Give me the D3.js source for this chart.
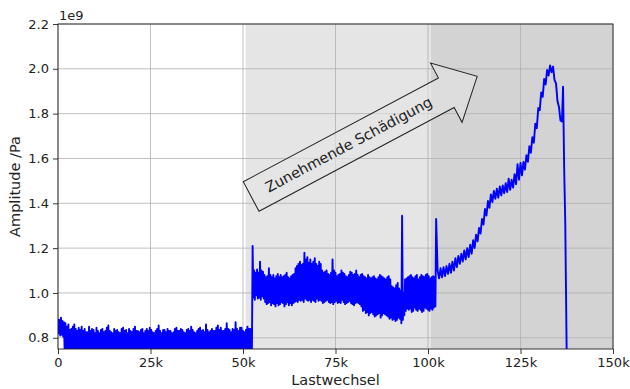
<!DOCTYPE html>
<html>
<head>
<meta charset="utf-8">
<script src="https://cdn.jsdelivr.net/npm/d3@7"></script>
<style>
  html, body { margin: 0; padding: 0; background: #fff; }
  svg { display: block; font-family: "DejaVu Sans", sans-serif; }
</style>
</head>
<body>
<svg id="chart" width="630" height="389"></svg>
<script>
// ---------- data (load cycles in thousands, amplitude in 1e9 Pa) ----------
const phase1Step = 0.2;           // thousand cycles between samples
const phase1Start = 0;
const phase1 = [
  0.885,0.82,0.88,0.81,0.89,0.815,0.875,0.805,0.87,0.74,0.865,0.72,0.85,0.73,0.86,0.71,0.835,0.72,0.84,0.70,
  0.85,0.73,0.86,0.71,0.84,0.72,0.83,0.70,0.845,0.73,0.835,0.71,0.85,0.72,0.83,0.70,0.84,0.73,0.825,0.71,
  0.825,0.72,0.85,0.70,0.83,0.73,0.84,0.71,0.835,0.72,0.82,0.70,0.845,0.73,0.83,0.71,0.82,0.72,0.835,0.70,
  0.84,0.73,0.825,0.71,0.83,0.72,0.845,0.70,0.855,0.73,0.83,0.71,0.825,0.72,0.82,0.70,0.84,0.73,0.83,0.71,
  0.835,0.72,0.825,0.70,0.82,0.73,0.84,0.71,0.845,0.72,0.83,0.70,0.835,0.73,0.82,0.71,0.84,0.72,0.83,0.70,
  0.825,0.73,0.84,0.71,0.85,0.72,0.83,0.70,0.83,0.73,0.825,0.71,0.835,0.72,0.84,0.70,0.82,0.73,0.83,0.71,
  0.84,0.72,0.83,0.70,0.845,0.73,0.835,0.71,0.825,0.72,0.82,0.70,0.83,0.73,0.84,0.71,0.855,0.72,0.83,0.70,
  0.82,0.73,0.835,0.71,0.835,0.72,0.825,0.70,0.84,0.73,0.83,0.71,0.83,0.72,0.82,0.70,0.825,0.73,0.84,0.71,
  0.845,0.72,0.83,0.70,0.83,0.73,0.84,0.71,0.835,0.72,0.825,0.70,0.82,0.73,0.835,0.71,0.84,0.72,0.83,0.70,
  0.85,0.73,0.835,0.71,0.825,0.72,0.82,0.70,0.83,0.73,0.84,0.71,0.845,0.72,0.83,0.70,0.835,0.73,0.825,0.71,
  0.86,0.72,0.835,0.70,0.825,0.73,0.83,0.71,0.84,0.72,0.83,0.70,0.83,0.73,0.845,0.71,0.855,0.72,0.835,0.70,
  0.845,0.73,0.83,0.71,0.83,0.72,0.84,0.70,0.865,0.73,0.84,0.71,0.835,0.72,0.825,0.70,0.84,0.73,0.835,0.71,
  0.87,0.72,0.84,0.70,0.83,0.73,0.845,0.71,0.845,0.72,0.83,0.70,0.825,0.73,0.835,0.71,0.85,0.72,0.84,0.70,
  0.84,0.73,0.72
];
const phase2Step = 0.2;
const phase2Start = 52.6;
const phase2 = [
  1.21,0.98,1.10,0.97,1.09,0.99,1.105,0.975,1.09,0.98,1.14,0.97,1.10,0.985,1.095,0.975,1.08,0.96,1.07,0.95,
  1.075,0.955,1.11,0.96,1.08,0.945,1.07,0.955,1.08,0.95,1.065,0.94,1.075,0.955,1.085,0.945,1.07,0.95,1.08,0.96,
  1.07,0.955,1.075,0.94,1.08,0.95,1.09,0.96,1.07,0.945,1.065,0.955,1.075,0.945,1.08,0.955,1.085,0.96,1.11,0.965,
  1.12,0.96,1.13,0.97,1.14,0.965,1.125,0.97,1.13,0.96,1.18,0.975,1.15,0.97,1.16,0.965,1.135,0.97,1.15,0.96,
  1.13,0.97,1.14,0.965,1.155,0.96,1.13,0.975,1.12,0.965,1.14,0.97,1.13,0.965,1.10,0.955,1.09,0.96,1.095,0.965,
  1.10,0.97,1.085,0.96,1.08,0.955,1.09,0.96,1.15,0.95,1.10,0.96,1.09,0.965,1.075,0.955,1.08,0.96,1.085,0.955,
  1.10,0.97,1.09,0.96,1.085,0.95,1.075,0.955,1.07,0.96,1.08,0.965,1.095,0.955,1.09,0.95,1.08,0.945,1.085,0.955,
  1.10,0.96,1.08,0.955,1.07,0.95,1.08,0.94,1.085,0.92,1.075,0.925,1.07,0.91,1.065,0.915,1.08,0.90,1.07,0.91,
  1.065,0.915,1.07,0.905,1.075,0.895,1.065,0.90,1.06,0.905,1.07,0.91,1.08,0.89,1.075,0.90,1.07,0.91,1.065,0.905,
  1.06,0.90,1.07,0.895,1.075,0.885,1.06,0.89,1.03,0.88,1.025,0.885,1.02,0.875,1.035,0.88,1.045,0.89,1.02,0.885,
  1.01,0.865,1.345,0.88,1.00,0.90,1.06,0.92,1.065,0.93,1.07,0.925,1.075,0.93,1.08,0.915,1.07,0.92,1.065,0.935,
  1.075,0.925,1.08,0.92,1.06,0.93,1.07,0.925,1.08,0.915,1.075,0.92,1.07,0.935,1.08,0.93,1.085,0.925,1.075,0.92,
  1.065,0.93,1.07,0.925,1.075,0.935,1.07,0.94,1.33
];
const phase3Step = 0.4;
const phase3Start = 102.6;
const phase3 = [
  1.10, 1.065, 1.11, 1.07, 1.115, 1.075, 1.12, 1.085, 1.13, 1.09,
  1.14, 1.10, 1.155, 1.115, 1.165, 1.13, 1.175, 1.14, 1.19, 1.15,
  1.20, 1.16, 1.215, 1.175, 1.235, 1.20, 1.26, 1.23, 1.29, 1.265,
  1.33, 1.305, 1.375, 1.345, 1.41, 1.38, 1.44, 1.405, 1.455, 1.42,
  1.465, 1.425, 1.475, 1.435, 1.48, 1.445, 1.49, 1.45, 1.51, 1.46,
  1.505, 1.47, 1.53, 1.485, 1.575, 1.505, 1.58, 1.525, 1.585, 1.55,
  1.615, 1.585, 1.655, 1.625, 1.695, 1.67, 1.755, 1.735, 1.825, 1.815,
  1.895, 1.875, 1.955, 1.93, 1.995, 1.97, 2.015, 1.985, 2.01, 1.95,
  1.935, 1.855, 1.83, 1.77, 1.765
];
const failureCycles = [136.5, 136.8, 137.1, 137.5];
const failureAmps   = [1.92, 1.56, 1.31, 0.70];

const damageSpans = [[50.7, 100.8], [100.8, 150]];
const spanColors = ["#e5e5e5", "#d3d3d3"];

const xTicks = [0, 25, 50, 75, 100, 125, 150];
const xTickLabels = ["0", "25k", "50k", "75k", "100k", "125k", "150k"];
const yTicks = [0.8, 1.0, 1.2, 1.4, 1.6, 1.8, 2.0, 2.2];
const yTickLabels = ["0.8", "1.0", "1.2", "1.4", "1.6", "1.8", "2.0", "2.2"];

const xTitle = "Lastwechsel";
const yTitle = "Amplitude /Pa";
const offsetText = "1e9";
const arrowText = "Zunehmende Schädigung";

// ---------- layout ----------
const plot = { left: 58, right: 613, top: 24, bottom: 349 };
const svg = d3.select("#chart");

const x = d3.scaleLinear().domain([0, 150]).range([plot.left, plot.right]);
const y = d3.scaleLinear().domain([0.75, 2.2]).range([plot.bottom, plot.top]);

const points = []
  .concat(phase1.map((v, i) => [phase1Start + i * phase1Step, v]))
  .concat(phase2.map((v, i) => [phase2Start + i * phase2Step, v]))
  .concat(phase3.map((v, i) => [phase3Start + i * phase3Step, v]))
  .concat(failureCycles.map((c, i) => [c, failureAmps[i]]));

svg.append("defs").append("clipPath").attr("id", "clip")
  .append("rect")
  .attr("x", plot.left).attr("y", plot.top)
  .attr("width", plot.right - plot.left).attr("height", plot.bottom - plot.top);

// shaded spans
svg.append("g").selectAll("rect").data(damageSpans).join("rect")
  .attr("x", d => x(d[0]))
  .attr("y", plot.top)
  .attr("width", d => x(d[1]) - x(d[0]))
  .attr("height", plot.bottom - plot.top)
  .attr("fill", (d, i) => spanColors[i]);

// grid
const grid = svg.append("g").attr("stroke", "#b0b0b0").attr("stroke-width", 0.8);
grid.selectAll("line.gx").data(xTicks).join("line")
  .attr("x1", d => x(d)).attr("x2", d => x(d))
  .attr("y1", plot.top).attr("y2", plot.bottom);
grid.selectAll("line.gy").data(yTicks).join("line")
  .attr("y1", d => y(d)).attr("y2", d => y(d))
  .attr("x1", plot.left).attr("x2", plot.right);

// data line
const line = d3.line().x(d => x(d[0])).y(d => y(d[1]));
svg.append("path")
  .datum(points)
  .attr("clip-path", "url(#clip)")
  .attr("d", line)
  .attr("fill", "none")
  .attr("stroke", "#0000ff")
  .attr("stroke-width", 1.9)
  .attr("stroke-linejoin", "round");

// axes
const xAxis = d3.axisBottom(x).tickValues(xTicks)
  .tickFormat((d, i) => xTickLabels[i]).tickSize(5).tickPadding(4);
const yAxis = d3.axisLeft(y).tickValues(yTicks)
  .tickFormat((d, i) => yTickLabels[i]).tickSize(5).tickPadding(4);

const gx = svg.append("g").attr("transform", `translate(0,${plot.bottom})`).call(xAxis);
const gy = svg.append("g").attr("transform", `translate(${plot.left},0)`).call(yAxis);
[gx, gy].forEach(g => {
  g.select(".domain").remove();
  g.selectAll("line").attr("stroke", "#222").attr("stroke-width", 0.9);
  g.selectAll("text").attr("fill", "#222").style("font-size", "13px")
    .style("font-family", "DejaVu Sans, sans-serif");
});

// frame
svg.append("rect")
  .attr("x", plot.left).attr("y", plot.top)
  .attr("width", plot.right - plot.left).attr("height", plot.bottom - plot.top)
  .attr("fill", "none").attr("stroke", "#222").attr("stroke-width", 0.9);

// titles
svg.append("text")
  .attr("x", (plot.left + plot.right) / 2).attr("y", 385)
  .attr("text-anchor", "middle").attr("fill", "#222")
  .style("font-size", "14.5px").text(xTitle);
svg.append("text")
  .attr("transform", `translate(20,${(plot.top + plot.bottom) / 2}) rotate(-90)`)
  .attr("text-anchor", "middle").attr("fill", "#222")
  .style("font-size", "14.5px").text(yTitle);
svg.append("text")
  .attr("x", plot.left + 1).attr("y", 20)
  .attr("fill", "#222").style("font-size", "13px").text(offsetText);

// damage arrow annotation
const arrowG = svg.append("g")
  .attr("transform", "translate(243.3,181.7) rotate(-28)");
const bodyLen = 221, bodyH = 33.5, headOver = 16.8, headLen = 35;
const arrowPts = [
  [0, 0], [bodyLen, 0], [bodyLen, -headOver], [bodyLen + headLen, bodyH / 2],
  [bodyLen, bodyH + headOver], [bodyLen, bodyH], [0, bodyH]
];
arrowG.append("path")
  .attr("d", d3.line()(arrowPts) + "Z")
  .attr("fill", "#e5e5e5").attr("fill-opacity", 0.6)
  .attr("stroke", "#222").attr("stroke-width", 1);
arrowG.append("text")
  .attr("x", bodyLen / 2).attr("y", bodyH / 2)
  .attr("text-anchor", "middle").attr("dominant-baseline", "central")
  .attr("fill", "#222").style("font-size", "14.5px").text(arrowText);
</script>
</body>
</html>
